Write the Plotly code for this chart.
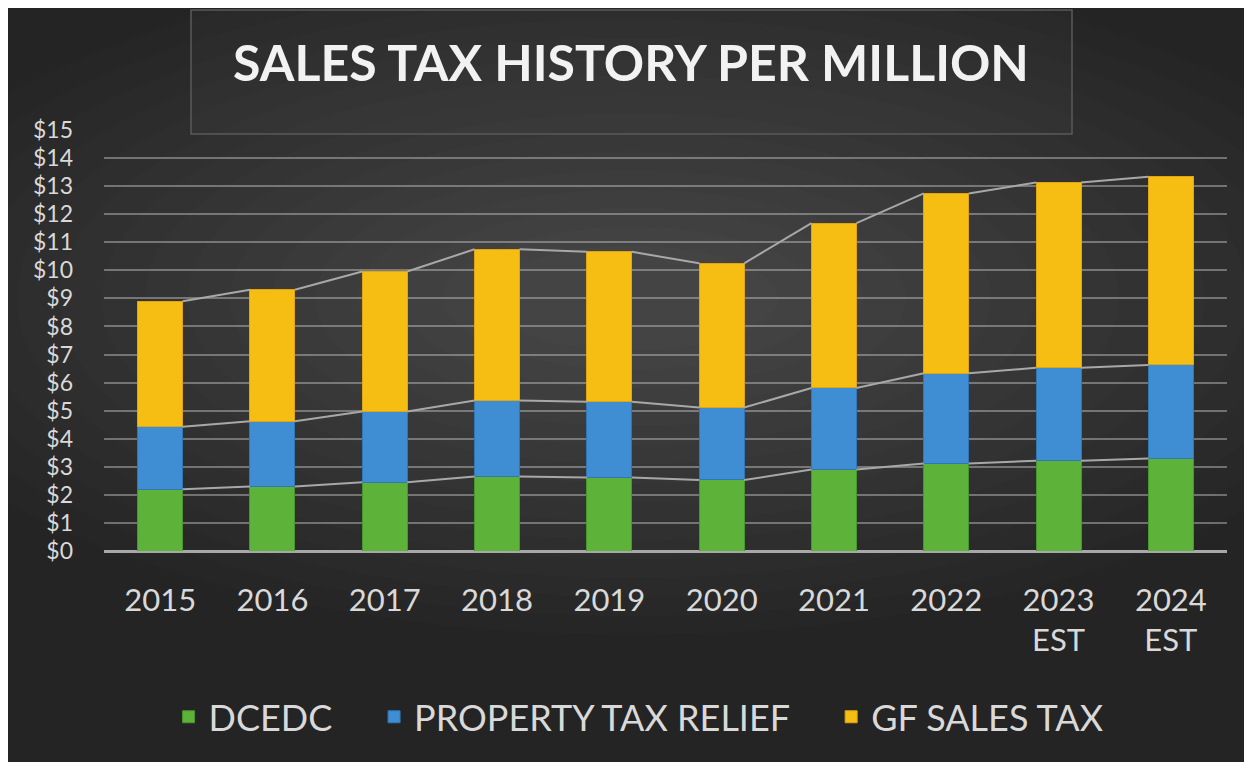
import plotly.graph_objects as go

# ── Data (per million, $) ───────────────────────────────────────────────────
YEARS = ["2015", "2016", "2017", "2018", "2019", "2020", "2021", "2022",
         "2023<br>EST", "2024<br>EST"]
DCEDC = [2.20, 2.30, 2.45, 2.65, 2.62, 2.53, 2.90, 3.12, 3.22, 3.30]
PROPERTY_TAX_RELIEF = [2.23, 2.32, 2.52, 2.71, 2.70, 2.58, 2.91, 3.21, 3.31, 3.33]
GF_SALES_TAX = [4.47, 4.69, 4.99, 5.39, 5.34, 5.14, 5.87, 6.41, 6.60, 6.70]
Y_TICKS = list(range(0, 16))

PAD = "\u00a0" * 4  # extra room between legend entries
SERIES = [
    ("DCEDC" + PAD, DCEDC, "#5db23a", "#4a962c"),
    ("PROPERTY TAX RELIEF" + PAD, PROPERTY_TAX_RELIEF, "#3f8ed3", "#3277b5"),
    ("GF SALES TAX", GF_SALES_TAX, "#f6be12", "#dfa514"),
]
BAR_W = 0.4
FONT = "Lato, 'Open Sans', sans-serif"

xs = list(range(len(YEARS)))
fig = go.Figure()

for name, vals, color, edge in SERIES:
    fig.add_bar(x=xs, y=vals, name=name, width=BAR_W,
                marker=dict(color=color, line=dict(color=edge, width=1)))

# Series lines joining the segment tops of neighbouring bars
cum = [0.0] * len(YEARS)
for _, vals, _, _ in SERIES:
    cum = [c + v for c, v in zip(cum, vals)]
    lx, ly = [], []
    for i in range(len(YEARS) - 1):
        lx += [xs[i] + BAR_W / 2, xs[i + 1] - BAR_W / 2, None]
        ly += [cum[i], cum[i + 1], None]
    fig.add_scatter(x=lx, y=ly, mode="lines", showlegend=False, hoverinfo="skip",
                    line=dict(color="#a8a8a8", width=2))

# soft radial glow in the background
shapes = []
N_GLOW = 16
for k in range(N_GLOW):
    rx = 0.70 - k * 0.038
    ry = 0.80 - k * 0.045
    shapes.append(dict(type="circle", xref="paper", yref="paper", layer="below",
                       x0=0.47 - rx, x1=0.47 + rx, y0=0.6 - ry, y1=0.6 + ry,
                       line=dict(width=0), fillcolor="rgba(255,255,255,0.011)"))
# title box
shapes.append(dict(type="rect", xref="paper", yref="paper", layer="below",
                   x0=(183 - 96) / 1123, x1=(1064 - 96) / 1123,
                   y0=1 + 1 / 421 * (122 - 126), y1=1 + (122 - 2) / 421,
                   line=dict(color="#5a5a5a", width=1.5),
                   fillcolor="rgba(255,255,255,0.02)"))

fig.update_layout(
    width=1252, height=762,
    barmode="stack",
    paper_bgcolor="#242424", plot_bgcolor="rgba(0,0,0,0)",
    margin=dict(l=96, r=33, t=122, b=219),
    font=dict(family=FONT, color="#d9d9d9"),
    title=dict(text="<b>SALES TAX HISTORY PER MILLION</b>", x=0.4976, xanchor="center",
               y=1 - 55 / 762, yanchor="middle",
               font=dict(family=FONT, size=50, color="#f2f2f2")),
    xaxis=dict(tickvals=xs, ticktext=YEARS, range=[-0.5, len(YEARS) - 0.5],
               showgrid=False, zeroline=False, showline=False,
               tickfont=dict(size=31, color="#d9d9d9"), ticklabelstandoff=28),
    yaxis=dict(range=[0, 15], tickvals=Y_TICKS, ticktext=[f"${v}" for v in Y_TICKS],
               gridcolor="rgba(200,200,200,0.45)", gridwidth=1.5,
               zeroline=True, zerolinecolor="#a8a8a8", zerolinewidth=3,
               showline=False, tickfont=dict(size=23, color="#d9d9d9"),
               ticklabelstandoff=30),
    legend=dict(orientation="h", x=0.476, xanchor="center", y=-0.394, yanchor="middle",
                font=dict(size=36, color="#d9d9d9"), bgcolor="rgba(0,0,0,0)",
                traceorder="normal"),
    shapes=shapes,
    showlegend=True,
)

fig.write_html("out.html")
